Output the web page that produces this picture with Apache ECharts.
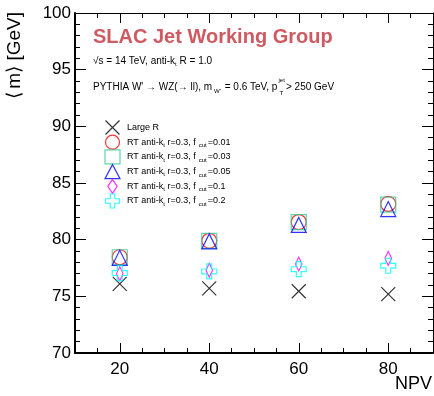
<!DOCTYPE html>
<html>
<head>
<meta charset="utf-8">
<script src="https://cdn.jsdelivr.net/npm/echarts@6/dist/echarts.min.js"></script>
<style>
  html, body { margin: 0; padding: 0; background: #fff; }
  #chart { width: 434px; height: 396px; }
</style>
</head>
<body>
<div id="chart"></div>
<script>
// Mean jet mass versus number of primary vertices
const npv = [20, 40, 60, 80];
const xTickLabels = [20, 40, 60, 80];

const largeR   = [76.1, 75.7, 75.45, 75.2];
const fcut001  = [78.45, 79.9, 81.55, 83.15];
const fcut003  = [78.45, 79.9, 81.55, 83.1];
const fcut005  = [78.4, 79.85, 81.3, 82.7];
const fcut01   = [77.0, 77.3, 77.85, 78.35];
const fcut02   = [77.05, 77.2, 77.4, 77.7];

const seriesNames = [
  'Large R',
  'RT anti-k{s|t} r=0.3, f{c|cut}=0.01',
  'RT anti-k{s|t} r=0.3, f{c|cut}=0.03',
  'RT anti-k{s|t} r=0.3, f{c|cut}=0.05',
  'RT anti-k{s|t} r=0.3, f{c|cut}=0.1',
  'RT anti-k{s|t} r=0.3, f{c|cut}=0.2'
];

const FONT = '"Liberation Sans", Arial, Helvetica, sans-serif';

const X_PATH = 'path://M0,0L10,10M0,10L10,0';
const DIAMOND_PATH = 'path://M5,0L10,7.5L5,15L0,7.5Z';
const CROSS_PATH = 'path://M3.4,0L6.6,0L6.6,3.4L10,3.4L10,6.6L6.6,6.6L6.6,10L3.4,10L3.4,6.6L0,6.6L0,3.4L3.4,3.4Z';

const markerDefs = [
  { data: largeR,  symbol: X_PATH,       size: 14,       color: '#000000' },
  { data: fcut001, symbol: 'circle',     size: 15,       color: '#ff0000' },
  { data: fcut003, symbol: 'rect',       size: 15,       color: '#33cc99' },
  { data: fcut005, symbol: 'triangle',   size: 15,       color: '#0000ff' },
  { data: fcut01,  symbol: DIAMOND_PATH, size: [10, 14], color: '#ff00ff' },
  { data: fcut02,  symbol: CROSS_PATH,   size: 15,       color: '#00ffff' }
];

const gridRect = { left: 75, right: 1, top: 13, bottom: 43 };

const chart = echarts.init(document.getElementById('chart'), null, { renderer: 'canvas' });

const blackLine = { color: '#000', width: 1 };

const option = {
  backgroundColor: '#fff',
  animation: false,
  textStyle: { fontFamily: FONT },
  grid: [
    Object.assign({}, gridRect),
    Object.assign({}, gridRect)
  ],
  xAxis: [
    // short ticks every 5 units, bottom and top
    {
      gridIndex: 0, type: 'value', position: 'bottom', min: 10, max: 90, interval: 5,
      axisLine: { show: true, onZero: false, lineStyle: { color: '#000', width: 2 } },
      axisTick: { show: true, inside: true, length: 5, lineStyle: blackLine },
      axisLabel: { show: false },
      splitLine: { show: false }
    },
    {
      gridIndex: 0, type: 'value', position: 'top', min: 10, max: 90, interval: 5,
      axisLine: { show: true, onZero: false, lineStyle: { color: '#000', width: 1 } },
      axisTick: { show: true, inside: true, length: 5, lineStyle: blackLine },
      axisLabel: { show: false },
      splitLine: { show: false }
    },
    // long ticks and labels at 20, 40, 60, 80
    {
      gridIndex: 1, type: 'value', position: 'bottom', min: 10, max: 90, interval: 5,
      axisLine: { show: false, onZero: false },
      axisTick: { show: true, inside: true, length: 10, customValues: xTickLabels, lineStyle: blackLine },
      axisLabel: {
        show: true, customValues: xTickLabels, margin: 8,
        color: '#000', fontSize: 17, fontFamily: FONT
      },
      splitLine: { show: false }
    },
    {
      gridIndex: 1, type: 'value', position: 'top', min: 10, max: 90, interval: 5,
      axisLine: { show: false, onZero: false },
      axisTick: { show: true, inside: true, length: 10, customValues: xTickLabels, lineStyle: blackLine },
      axisLabel: { show: false },
      splitLine: { show: false }
    }
  ],
  yAxis: [
    {
      gridIndex: 0, type: 'value', position: 'left', min: 70, max: 100, interval: 5,
      axisLine: { show: true, onZero: false, lineStyle: { color: '#000', width: 2 } },
      axisTick: { show: true, inside: true, length: 11, lineStyle: blackLine },
      minorTick: { show: true, splitNumber: 5, length: 5, lineStyle: blackLine },
      axisLabel: { show: true, margin: 4, color: '#000', fontSize: 17, fontFamily: FONT },
      splitLine: { show: false }
    },
    {
      gridIndex: 0, type: 'value', position: 'right', min: 70, max: 100, interval: 5,
      axisLine: { show: true, onZero: false, lineStyle: { color: '#000', width: 1 } },
      axisTick: { show: true, inside: true, length: 11, lineStyle: blackLine },
      minorTick: { show: true, splitNumber: 5, length: 5, lineStyle: blackLine },
      axisLabel: { show: false },
      splitLine: { show: false }
    },
    {
      gridIndex: 1, type: 'value', min: 70, max: 100, interval: 5, show: false
    }
  ],
  legend: {
    orient: 'vertical',
    left: 102.5,
    top: 118,
    padding: 0,
    itemWidth: 15,
    itemHeight: 14,
    itemGap: -4.3,
    symbolKeepAspect: true,
    selectedMode: false,
    data: seriesNames.map((name, i) => ({
      name: name,
      icon: markerDefs[i].symbol,
      itemStyle: {
        color: 'none',
        borderColor: markerDefs[i].color,
        borderWidth: 1.2
      }
    })),
    textStyle: {
      fontFamily: FONT,
      fontSize: 9,
      color: '#000',
      padding: [0, 0, 0, 2],
      rich: {
        s: { fontSize: 6, padding: [6, 0, 0, 0], lineHeight: 7, fontFamily: FONT, color: '#000' },
        c: { fontSize: 6, padding: [7, 1, 0, 3], lineHeight: 7, fontFamily: FONT, color: '#000' }
      }
    }
  },
  series: markerDefs.map((m, i) => ({
    name: seriesNames[i],
    type: 'scatter',
    xAxisIndex: 2,
    yAxisIndex: 2,
    symbol: m.symbol,
    symbolSize: m.size,
    symbolKeepAspect: true,
    itemStyle: { color: 'none', borderColor: m.color, borderWidth: 1.2 },
    emphasis: { disabled: true },
    z: 3 + i,
    data: npv.map((x, j) => [x, m.data[j]])
  })),
  graphic: [
    {
      type: 'text', left: 93, top: 27.5,
      style: {
        text: 'SLAC Jet Working Group',
        font: 'bold 20px ' + FONT,
        fill: '#cf5a62'
      }
    },
    {
      type: 'text', x: 93, y: 61.5,
      style: {
        text: '√s = 14 TeV, anti-k{s|t} R = 1.0',
        fontFamily: FONT, fontSize: 10, fill: '#000',
        verticalAlign: 'middle',
        rich: { s: { fontSize: 6, padding: [6, 0, 0, 0], lineHeight: 7, fontFamily: FONT } }
      }
    },
    {
      type: 'text', x: 93, y: 87,
      style: {
        text: "PYTHIA W' → WZ(→ ll), m{s|W'} = 0.6 TeV, p",
        fontFamily: FONT, fontSize: 10, fill: '#000',
        verticalAlign: 'middle',
        rich: { s: { fontSize: 6, padding: [8, 1, 0, 2], lineHeight: 7, fontFamily: FONT } }
      }
    },
    {
      type: 'text', x: 278.5, y: 80,
      style: { text: 'jet', fontFamily: FONT, fontSize: 6, fill: '#000', verticalAlign: 'middle' }
    },
    {
      type: 'text', x: 279.5, y: 93,
      style: { text: 'T', fontFamily: FONT, fontSize: 6, fill: '#000', verticalAlign: 'middle' }
    },
    {
      type: 'text', x: 286, y: 87,
      style: { text: '> 250 GeV', fontFamily: FONT, fontSize: 10, fill: '#000', verticalAlign: 'middle' }
    },
    {
      type: 'text', x: 15, y: 12, rotation: Math.PI / 2,
      style: {
        text: '⟨\u2009m⟩ [GeV]', fontFamily: FONT, fontSize: 19, fill: '#000',
        align: 'right', verticalAlign: 'middle'
      }
    },
    {
      type: 'text', x: 432, y: 384,
      style: {
        text: 'NPV', fontFamily: FONT, fontSize: 18, fill: '#000',
        align: 'right', verticalAlign: 'middle'
      }
    }
  ]
};

chart.setOption(option);
</script>
</body>
</html>
